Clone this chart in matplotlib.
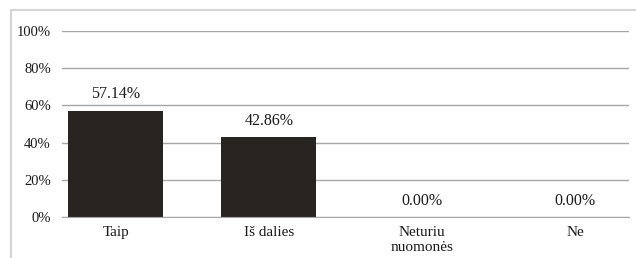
import numpy as np
import matplotlib.pyplot as plt
from matplotlib.patches import Rectangle

categories = ['Taip', 'Iš dalies', 'Neturiu\nnuomonės', 'Ne']
values = [57.14, 42.86, 0.00, 0.00]
yticks = [0, 20, 40, 60, 80, 100]

plt.rcParams['font.family'] = ['Liberation Serif', 'DejaVu Serif']

W, H = 636, 258
fig = plt.figure(figsize=(W / 100, H / 100), dpi=100)
ax = fig.add_axes([62 / W, 1 - 217 / H, (629 - 62) / W, (217 - 31) / H])

# light frame around the chart (runs off the right/bottom edge)
fig.patches.append(Rectangle((11 / W, -0.1), 1.2, 1 - 10 / H + 0.1,
                             transform=fig.transFigure, fill=False,
                             edgecolor='#d4d4d4', linewidth=1.5))

x = np.arange(len(categories))
ax.bar(x, values, width=0.62, color='#282422', zorder=3)

for xi, v in zip(x, values):
    ax.annotate(f'{v:.2f}%', (xi, v), xytext=(0, 6), textcoords='offset points',
                ha='center', va='bottom', fontsize=11.5, color='#1a1a1a')

ax.set_ylim(0, 100)
ax.set_xlim(-0.35, 3.35)
ax.set_yticks(yticks)
ax.set_yticklabels([f'{t}%' for t in yticks], fontsize=10.5, color='#1a1a1a')
ax.set_xticks(x)
ax.set_xticklabels(categories, fontsize=11, color='#1a1a1a', linespacing=1.15)
ax.tick_params(length=0)
ax.tick_params(axis='y', pad=8)
ax.tick_params(axis='x', pad=6.5)

ax.grid(axis='y', color='#a6a6a6', linewidth=1, zorder=0)
for s in ['top', 'right', 'left']:
    ax.spines[s].set_visible(False)
ax.spines['bottom'].set_color('#a6a6a6')
ax.spines['bottom'].set_zorder(4)

fig.savefig('out.png', dpi=100)
